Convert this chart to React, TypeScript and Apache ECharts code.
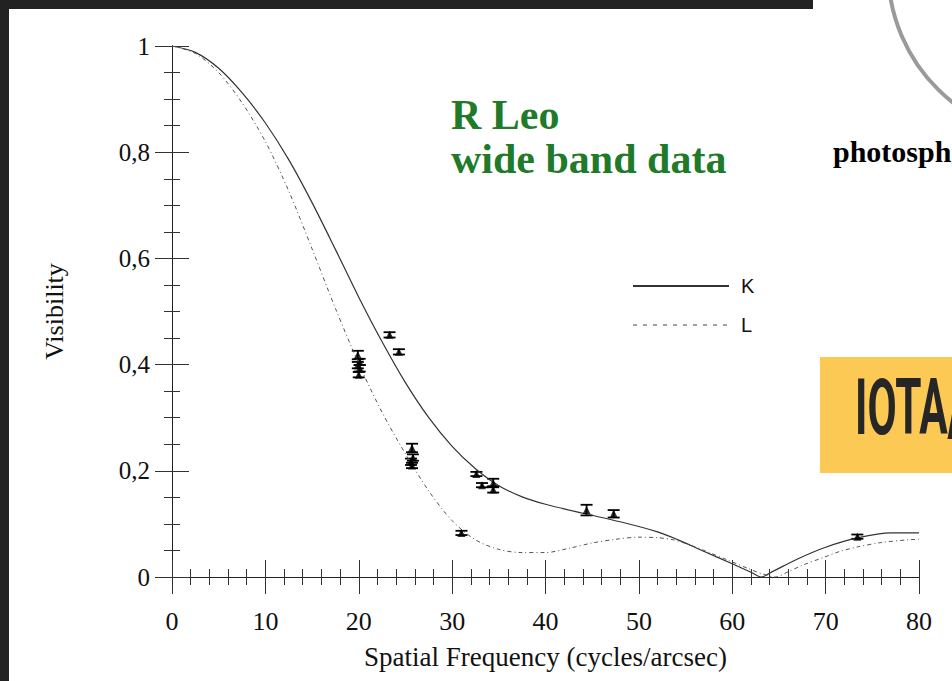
import React, { useEffect, useRef } from "react";
import * as echarts from "echarts";

// K band model curve (spatial frequency, visibility)
const kFreq = [0, 2.5, 5, 7.5, 10, 12.5, 15, 17.5, 20, 22.5, 25, 27.5, 30, 32.5, 35, 37.5, 40, 44, 48, 52, 54.2, 57, 60, 62, 63.1, 64.4, 67, 70, 73.5, 77, 80];
const kVis = [1, 0.988, 0.958, 0.912, 0.855, 0.786, 0.705, 0.617, 0.527, 0.443, 0.366, 0.3, 0.246, 0.204, 0.172, 0.151, 0.137, 0.12, 0.104, 0.085, 0.07, 0.048, 0.025, 0.009, 0, 0.011, 0.034, 0.056, 0.074, 0.083, 0.083];

// L band model curve
const lFreq = [0, 2.5, 5, 7.5, 10, 12.5, 15, 17.5, 20, 22.5, 25, 27.5, 30, 32.5, 35, 37.5, 40, 42.5, 45, 47.5, 50, 52, 53.7, 55.5, 57.4, 59.5, 61.7, 63.2, 64.6, 66, 67.5, 69.8, 71.5, 73.5, 76, 78.8, 80];
const lVis = [1, 0.986, 0.95, 0.893, 0.82, 0.727, 0.618, 0.506, 0.402, 0.31, 0.232, 0.162, 0.106, 0.07, 0.052, 0.046, 0.046, 0.054, 0.064, 0.071, 0.075, 0.074, 0.07, 0.06, 0.047, 0.032, 0.016, 0.006, 0, 0.01, 0.022, 0.037, 0.048, 0.057, 0.065, 0.07, 0.071];

// measured data points with error bars
const obsFreq = [19.9, 20.1, 19.9, 20.1, 20.0, 23.3, 24.3, 25.7, 25.8, 25.6, 25.7, 31.0, 32.6, 33.2, 34.4, 34.4, 44.4, 47.3, 73.4];
const obsVis = [0.418, 0.405, 0.399, 0.393, 0.381, 0.456, 0.424, 0.243, 0.225, 0.217, 0.21, 0.083, 0.194, 0.173, 0.177, 0.165, 0.126, 0.119, 0.076];
const obsErr = [0.008, 0.006, 0.006, 0.006, 0.005, 0.005, 0.005, 0.008, 0.006, 0.006, 0.005, 0.004, 0.004, 0.004, 0.008, 0.006, 0.01, 0.007, 0.004];

const xTicks = { min: 0, max: 80, interval: 10 };
const xMinorTicks = { min: 0, max: 80, interval: 2 };
const yTicks = { min: 0, max: 1, interval: 0.2 };
const yMinorTicks = { min: 0, max: 1, interval: 0.05 };

const SERIF = "'Liberation Serif', 'DejaVu Serif', serif";

export default function App() {
  const ref = useRef<HTMLDivElement>(null);
  useEffect(() => {
    if (!ref.current) return;
    const chart = echarts.init(ref.current, null, { renderer: "svg" });
    const axisLine = { show: true, lineStyle: { color: "#222", width: 1 } };
    const tick = { show: true, inside: true, length: 17, lineStyle: { color: "#333", width: 1 } };
    const minorTick = { show: true, inside: true, length: 8, lineStyle: { color: "#333", width: 1 } };
    const yFmt = (v: number) => {
      const r = Math.round(v * 10) / 10;
      if (r === 0) return "0";
      if (r === 1) return "1";
      return r.toFixed(1).replace(".", ",");
    };
    const gridRect = { left: 172, top: 46, width: 747, height: 531, containLabel: false };
    const minorAxis = (pos: string, gi: number, t: any) => ({
      type: "value",
      gridIndex: gi,
      position: pos,
      ...t,
      axisLine: { show: false },
      axisTick: minorTick,
      splitLine: { show: false },
      axisLabel: { show: false },
      silent: true,
    });
    const option: any = {
      animation: false,
      backgroundColor: "#ffffff",
      title: {
        text: "R Leo\nwide band data",
        left: 451,
        top: 93,
        padding: 0,
        textStyle: { fontFamily: SERIF, fontWeight: "bold", fontSize: 42, color: "#1f7a2a", lineHeight: 44 },
      },
      legend: {
        data: [
          { name: "K" },
          { name: "L", lineStyle: { type: [4, 6], color: "#444", width: 1.2 } },
        ],
        orient: "vertical",
        left: 632,
        top: 276,
        padding: 0,
        itemWidth: 96,
        itemHeight: 14,
        itemGap: 19,
        itemStyle: { opacity: 0 },
        textStyle: { fontFamily: "'Liberation Sans', Arial, sans-serif", fontSize: 20, color: "#111", padding: [0, 0, 0, 7] },
      },
      grid: [gridRect, gridRect],
      xAxis: [
        {
          type: "value",
          gridIndex: 0,
          position: "bottom",
          ...xTicks,
          axisLine,
          axisTick: tick,
          splitLine: { show: false },
          axisLabel: { fontFamily: SERIF, fontSize: 26, color: "#111", margin: 31 },
          name: "Spatial Frequency (cycles/arcsec)",
          nameLocation: "middle",
          nameGap: 66,
          nameTextStyle: { fontFamily: SERIF, fontSize: 27, color: "#111" },
        },
        {
          type: "value",
          gridIndex: 0,
          position: "top",
          ...xTicks,
          axisLine,
          axisTick: tick,
          splitLine: { show: false },
          axisLabel: { show: false },
        },
        minorAxis("bottom", 1, xMinorTicks),
        minorAxis("top", 1, xMinorTicks),
      ],
      yAxis: [
        {
          type: "value",
          gridIndex: 0,
          position: "left",
          ...yTicks,
          axisLine,
          axisTick: tick,
          splitLine: { show: false },
          axisLabel: { fontFamily: SERIF, fontSize: 25, color: "#111", margin: 22, formatter: yFmt },
          name: "Visibility",
          nameLocation: "middle",
          nameGap: 105,
          nameTextStyle: { fontFamily: SERIF, fontSize: 26, color: "#111" },
        },
        {
          type: "value",
          gridIndex: 0,
          position: "right",
          ...yTicks,
          axisLine,
          axisTick: tick,
          splitLine: { show: false },
          axisLabel: { show: false },
        },
        minorAxis("left", 1, yMinorTicks),
        minorAxis("right", 1, yMinorTicks),
      ],
      series: [
        {
          name: "K",
          type: "line",
          xAxisIndex: 0,
          yAxisIndex: 0,
          data: kFreq.map((f, i) => [f, kVis[i]]),
          symbol: "none",
          smooth: 0.3,
          lineStyle: { color: "#333", width: 1.2, type: "solid" },
          itemStyle: { color: "#333" },
        },
        {
          name: "L",
          type: "line",
          xAxisIndex: 0,
          yAxisIndex: 0,
          data: lFreq.map((f, i) => [f, lVis[i]]),
          symbol: "none",
          smooth: 0.3,
          lineStyle: { color: "#555", width: 1, type: [4, 3, 1, 3] },
          itemStyle: { color: "#555" },
        },
        {
          name: "errors",
          type: "custom",
          xAxisIndex: 0,
          yAxisIndex: 0,
          data: obsFreq.map((f, i) => [f, obsVis[i] - obsErr[i], obsVis[i] + obsErr[i]]),
          renderItem: (params: any, api: any) => {
            const x = api.value(0);
            const top = api.coord([x, api.value(2)]);
            const bot = api.coord([x, api.value(1)]);
            const st = { stroke: "#000", lineWidth: 1.8 };
            return {
              type: "group",
              children: [
                { type: "line", shape: { x1: top[0], y1: top[1], x2: bot[0], y2: bot[1] }, style: st },
                { type: "line", shape: { x1: top[0] - 6, y1: top[1], x2: top[0] + 6, y2: top[1] }, style: st },
                { type: "line", shape: { x1: bot[0] - 6, y1: bot[1], x2: bot[0] + 6, y2: bot[1] }, style: st },
              ],
            };
          },
          z: 3,
        },
        {
          name: "data",
          type: "scatter",
          xAxisIndex: 0,
          yAxisIndex: 0,
          data: obsFreq.map((f, i) => [f, obsVis[i]]),
          symbol: "triangle",
          symbolSize: 8,
          itemStyle: { color: "#000" },
          z: 4,
        },
      ],
      graphic: [
        { type: "rect", z: 100, shape: { x: 0, y: 0, width: 813, height: 9 }, style: { fill: "#222" } },
        { type: "rect", z: 100, shape: { x: 0, y: 0, width: 9, height: 681 }, style: { fill: "#222" } },
        { type: "rect", z: 100, shape: { x: 813, y: 0, width: 139, height: 170 }, style: { fill: "#fff" } },
        {
          type: "arc",
          z: 101,
          shape: { cx: 1058, cy: -31, r: 170, startAngle: 1.6, endAngle: 3.1 },
          style: { stroke: "#9a9a9a", lineWidth: 4, fill: "none" },
        },
        {
          type: "text",
          z: 101,
          x: 833,
          y: 166,
          style: { text: "photosph", fontFamily: SERIF, fontWeight: "bold", fontSize: 30, fill: "#000", textVerticalAlign: "bottom" },
        },
        { type: "rect", z: 101, shape: { x: 820, y: 357, width: 132, height: 116 }, style: { fill: "#fcc954" } },
        {
          type: "text",
          z: 102,
          x: 855,
          y: 369,
          scaleX: 0.55,
          style: { text: "IOTA/", fontFamily: "Roboto, 'DejaVu Sans', sans-serif", fontWeight: "bold", fontSize: 77, fill: "#262626", textVerticalAlign: "top" },
        },
      ],
    };
    chart.setOption(option);
    return () => chart.dispose();
  }, []);
  return <div ref={ref} style={{ position: "absolute", left: 0, top: 0, width: 952, height: 681, background: "#fff" }} />;
}
